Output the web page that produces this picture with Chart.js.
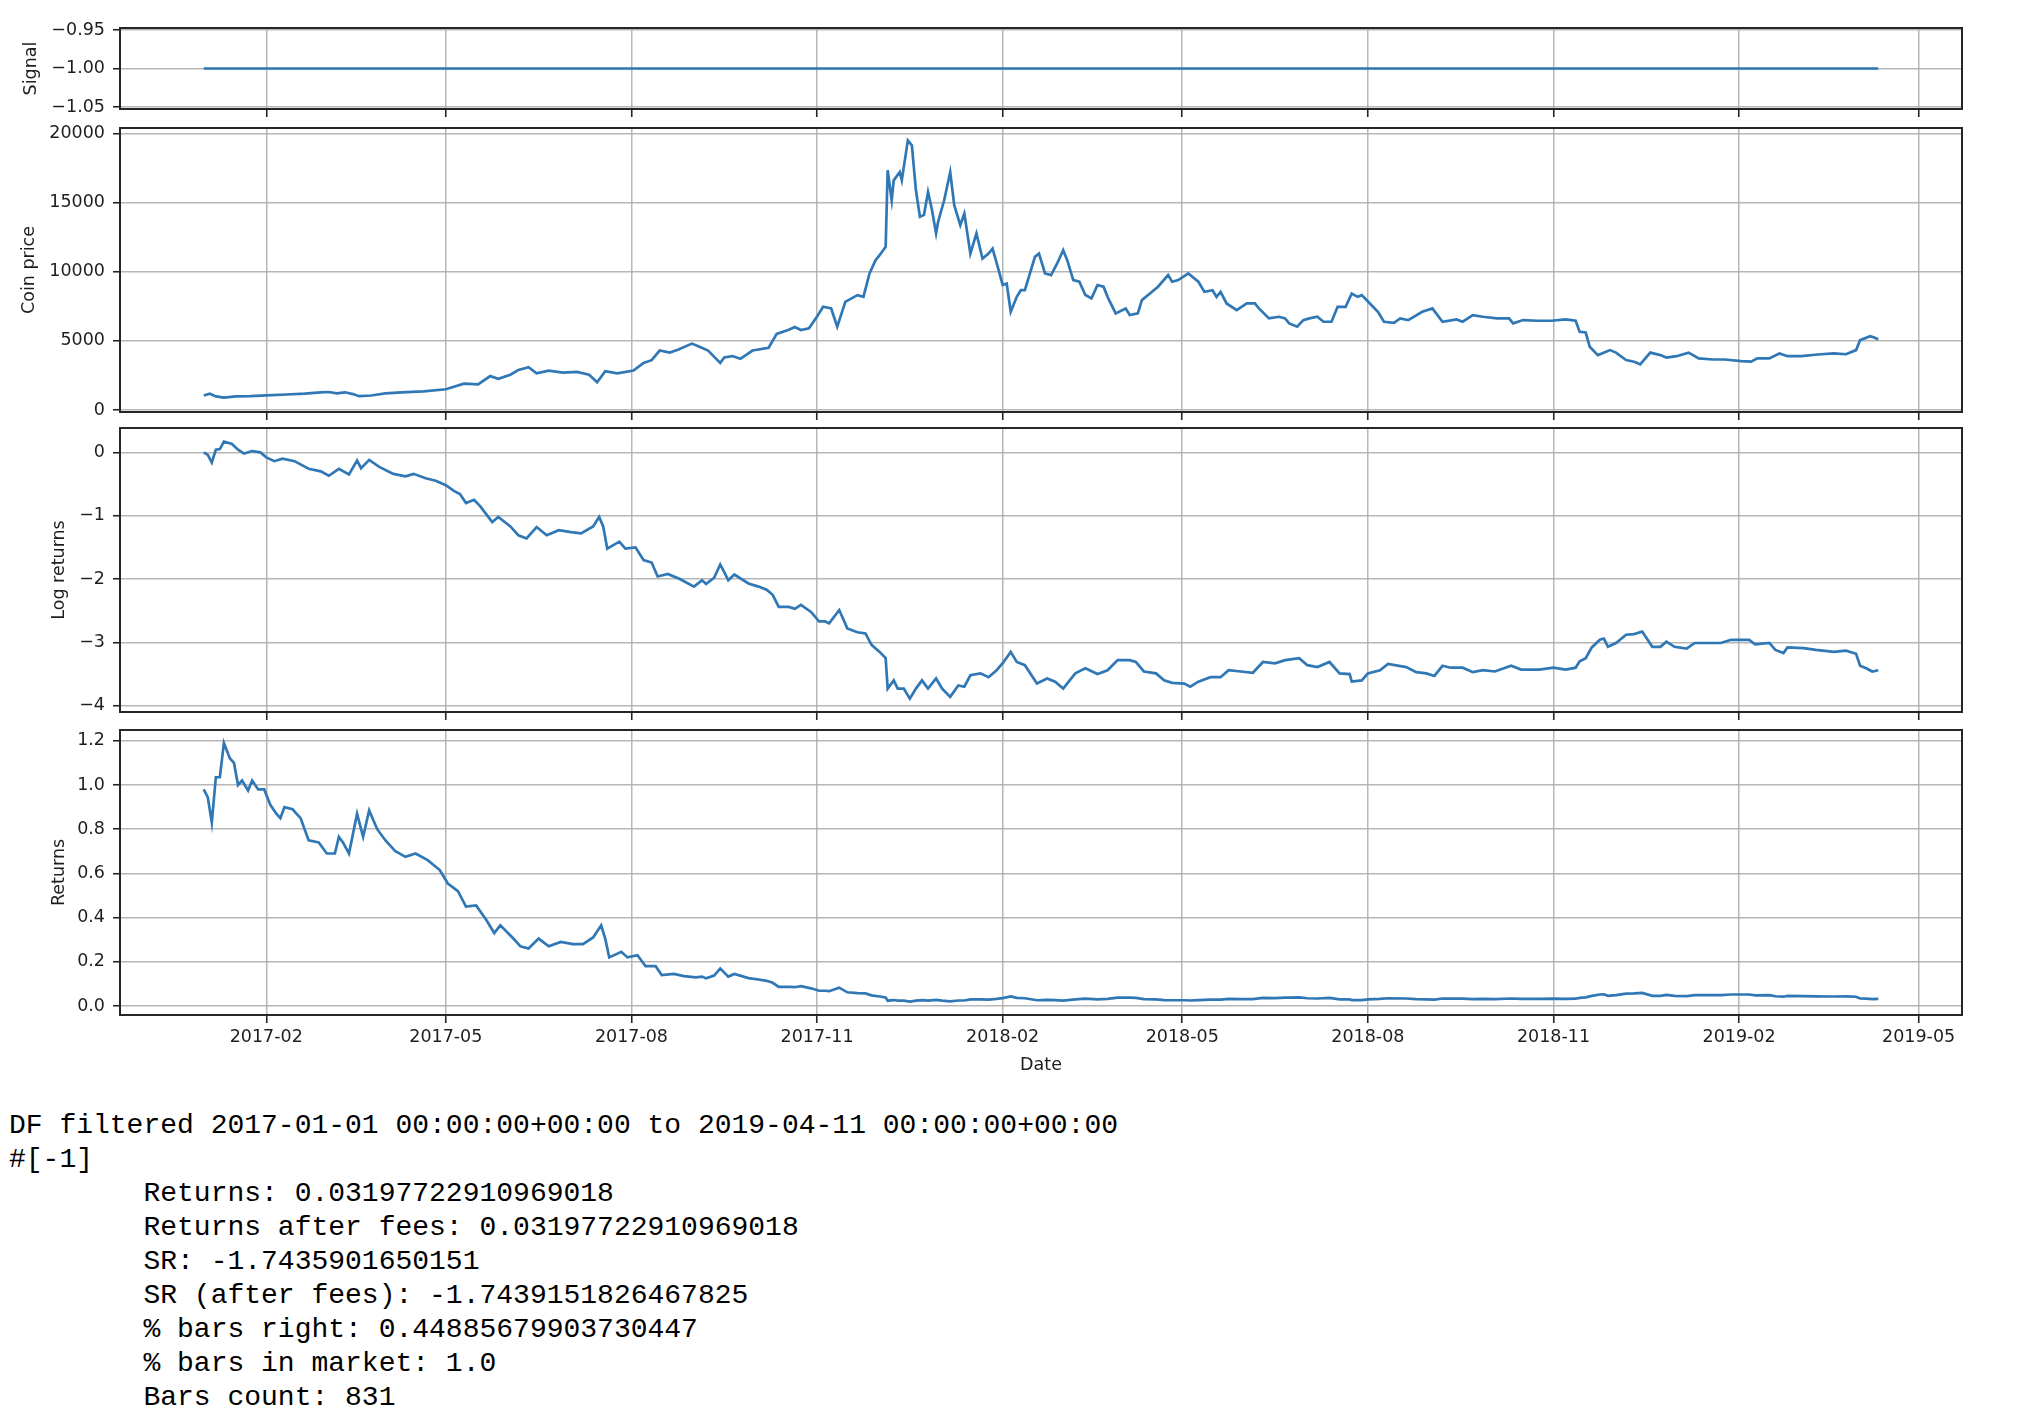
<!DOCTYPE html>
<html>
<head>
<meta charset="utf-8">
<script src="https://cdn.jsdelivr.net/npm/chart.js"></script>
<style>
html,body{margin:0;padding:0;background:#fff;width:2018px;height:1424px;overflow:hidden;position:relative;}
canvas{position:absolute;left:0;}
pre{position:absolute;left:9px;top:1109px;margin:0;font-family:"Liberation Mono","DejaVu Sans Mono",monospace;font-size:28px;line-height:34px;tab-size:8;-moz-tab-size:8;color:#000;}
</style>
</head>
<body>
<canvas id="c1"></canvas>
<canvas id="c2"></canvas>
<canvas id="c3"></canvas>
<canvas id="c4"></canvas>
<pre>DF filtered 2017-01-01 00:00:00+00:00 to 2019-04-11 00:00:00+00:00
#[-1]
	Returns: 0.03197722910969018
	Returns after fees: 0.03197722910969018
	SR: -1.7435901650151
	SR (after fees): -1.7439151826467825
	% bars right: 0.44885679903730447
	% bars in market: 1.0
	Bars count: 831</pre>
<script>
// x values are days since 2017-01-01 (first bar)
const xTickDays   = [31, 120, 212, 304, 396, 485, 577, 669, 761, 850];
const xTickLabels = ['2017-02','2017-05','2017-08','2017-11','2018-02','2018-05','2018-08','2018-11','2019-02','2019-05'];

const signalDays   = [0, 830];
const signalValues = [-1, -1];
const signalTicks  = [-1.05, -1.00, -0.95];
const signalLabels = ['\u22121.05', '\u22121.00', '\u22120.95'];

const priceDays = [
  0,3,6,10,16,23,31,41,50,58,
  62,66,70,74,77,83,90,98,109,120,
  129,136,142,146,152,156,161,165,171,178,
  185,191,195,199,205,213,218,222,226,231,
  235,242,246,250,256,258,262,266,272,280,
  284,290,293,296,300,304,307,311,314,318,
  324,327,330,333,335,338,339,341,342,345,
  346,349,351,353,355,357,359,361,363,364,
  367,370,372,375,377,380,383,386,389,391,
  394,396,398,400,403,405,407,412,414,417,
  420,423,426,428,431,434,437,440,443,446,
  448,452,457,459,463,465,469,473,478,480,
  483,488,493,496,500,502,504,507,512,517,
  521,523,528,533,536,538,542,545,548,552,
  555,559,562,566,569,572,574,578,582,585,
  590,593,597,604,609,614,621,624,629,634,
  641,647,649,654,661,668,675,680,682,685,
  687,691,693,697,700,705,709,712,717,722,
  725,730,736,741,748,754,762,767,770,776,
  781,785,792,800,808,814,819,821,826,828,
  830];
const priceValues = [
  1050,1180,980,890,980,1000,1060,1120,1180,1270,
  1300,1200,1280,1150,1000,1050,1200,1280,1350,1500,
  1900,1850,2450,2250,2550,2900,3100,2650,2850,2700,
  2750,2550,2000,2800,2650,2850,3400,3600,4300,4150,
  4350,4800,4550,4300,3400,3800,3900,3700,4300,4500,
  5500,5800,6000,5780,5900,6750,7460,7340,6020,7820,
  8300,8180,9870,10830,11190,11790,17330,15160,16600,17200,
  16600,19490,19130,15880,13960,14100,15760,14440,12760,13600,
  15160,17200,14800,13360,14200,11310,12760,10950,11310,11670,
  10110,9030,9140,7100,8180,8660,8660,11070,11310,9870,
  9750,10590,11550,10830,9390,9270,8310,8070,9030,8910,
  8180,6980,7340,6860,6980,7940,8420,8910,9750,9270,
  9390,9870,9270,8540,8660,8180,8540,7700,7220,7700,
  7700,7340,6620,6740,6620,6260,6020,6500,6620,6740,
  6380,6380,7460,7460,8420,8180,8300,7700,7100,6380,
  6300,6620,6500,7100,7340,6380,6550,6380,6860,6740,
  6620,6620,6260,6500,6450,6450,6550,6450,5650,5600,
  4570,3970,4090,4330,4150,3610,3490,3300,4150,3970,
  3790,3890,4150,3730,3650,3650,3530,3490,3730,3730,
  4090,3890,3890,4010,4090,4030,4330,5050,5340,5240,
  5100];
const priceTicks  = [0, 5000, 10000, 15000, 20000];
const priceLabels = ['0', '5000', '10000', '15000', '20000'];

const logDays = [
  0,2,4,6,8,10,14,17,20,24,
  28,31,35,39,45,52,58,62,67,72,
  76,78,82,87,94,100,104,110,115,120,
  124,127,130,134,137,143,146,152,156,160,
  165,170,176,182,187,193,196,198,200,206,
  209,214,218,222,225,230,236,243,247,249,
  253,256,258,260,263,270,275,279,282,285,
  290,293,296,301,305,308,310,315,319,324,
  328,331,335,338,339,342,344,347,350,353,
  356,359,363,366,370,374,377,380,385,389,
  393,396,400,403,407,413,418,422,426,432,
  437,443,448,453,459,462,466,472,476,480,
  486,489,493,499,504,508,514,520,525,531,
  536,543,547,552,558,563,568,569,574,577,
  583,587,596,601,606,610,614,618,624,629,
  634,640,648,653,662,669,675,680,682,685,
  688,692,694,696,700,705,709,713,718,722,
  725,729,735,739,746,752,757,766,769,776,
  779,783,785,793,799,808,814,819,821,824,
  827,830];
const logValues = [
  0,-0.04,-0.16,0.04,0.05,0.17,0.13,0.04,-0.02,0.02,
  0,-0.08,-0.14,-0.10,-0.14,-0.26,-0.30,-0.37,-0.26,-0.35,
  -0.13,-0.25,-0.12,-0.23,-0.34,-0.38,-0.34,-0.41,-0.45,-0.52,
  -0.61,-0.66,-0.80,-0.75,-0.85,-1.10,-1.02,-1.17,-1.31,-1.36,
  -1.18,-1.31,-1.23,-1.26,-1.28,-1.17,-1.02,-1.17,-1.52,-1.41,
  -1.52,-1.50,-1.70,-1.74,-1.96,-1.92,-2.00,-2.12,-2.02,-2.08,
  -1.98,-1.77,-1.89,-2.02,-1.93,-2.07,-2.12,-2.17,-2.25,-2.44,
  -2.44,-2.47,-2.41,-2.52,-2.67,-2.67,-2.70,-2.49,-2.78,-2.84,
  -2.86,-3.04,-3.15,-3.25,-3.73,-3.60,-3.73,-3.73,-3.89,-3.73,
  -3.60,-3.73,-3.57,-3.73,-3.86,-3.68,-3.70,-3.52,-3.49,-3.55,
  -3.44,-3.33,-3.15,-3.31,-3.36,-3.65,-3.57,-3.62,-3.73,-3.49,
  -3.41,-3.50,-3.44,-3.28,-3.28,-3.31,-3.46,-3.49,-3.60,-3.64,
  -3.65,-3.70,-3.62,-3.55,-3.55,-3.44,-3.46,-3.48,-3.31,-3.33,
  -3.28,-3.25,-3.36,-3.39,-3.31,-3.49,-3.50,-3.62,-3.60,-3.49,
  -3.44,-3.34,-3.39,-3.47,-3.49,-3.53,-3.37,-3.40,-3.40,-3.47,
  -3.44,-3.46,-3.37,-3.43,-3.43,-3.40,-3.43,-3.40,-3.30,-3.25,
  -3.08,-2.96,-2.94,-3.07,-3.01,-2.88,-2.87,-2.83,-3.07,-3.07,
  -2.99,-3.07,-3.10,-3.01,-3.01,-3.01,-2.96,-2.96,-3.03,-3.01,
  -3.12,-3.17,-3.08,-3.09,-3.12,-3.15,-3.13,-3.18,-3.37,-3.41,
  -3.46,-3.44];
const logTicks  = [-4, -3, -2, -1, 0];
const logLabels = ['\u22124', '\u22123', '\u22122', '\u22121', '0'];

const retDays = [
  0,2,4,6,8,10,13,15,17,19,
  22,24,27,30,33,36,38,40,44,48,
  52,57,61,65,67,69,72,76,79,82,
  86,90,95,100,105,111,117,121,126,130,
  135,140,144,147,153,157,161,166,171,177,
  183,188,193,197,199,201,207,210,215,219,
  224,227,233,238,244,247,249,253,256,258,
  260,263,270,275,279,282,285,290,293,296,
  301,305,308,310,315,319,324,328,331,335,
  338,339,342,344,347,350,353,356,359,363,
  366,370,374,377,380,385,389,393,396,400,
  403,407,413,418,422,426,432,437,443,448,
  453,459,462,466,472,476,480,486,489,493,
  499,504,508,514,520,525,531,536,543,547,
  552,558,563,568,569,574,577,583,587,596,
  601,606,610,614,618,624,629,634,640,648,
  653,662,669,675,680,682,685,688,692,694,
  696,700,705,709,713,718,722,725,729,735,
  739,746,752,757,766,769,776,779,783,785,
  793,799,808,814,819,821,824,827,830];
const retValues = [
  0.98,0.945,0.83,1.035,1.035,1.19,1.12,1.10,1.00,1.02,
  0.975,1.02,0.98,0.98,0.91,0.87,0.85,0.90,0.89,0.85,
  0.75,0.74,0.69,0.69,0.765,0.74,0.69,0.87,0.765,0.885,
  0.80,0.75,0.70,0.675,0.69,0.66,0.615,0.554,0.52,0.45,
  0.455,0.39,0.33,0.365,0.31,0.27,0.26,0.305,0.27,0.29,
  0.28,0.28,0.31,0.365,0.305,0.22,0.245,0.22,0.23,0.18,
  0.18,0.14,0.145,0.135,0.13,0.133,0.125,0.138,0.170,0.151,
  0.133,0.145,0.126,0.120,0.114,0.105,0.087,0.087,0.085,0.090,
  0.080,0.069,0.069,0.067,0.083,0.062,0.058,0.057,0.048,0.043,
  0.039,0.024,0.027,0.024,0.024,0.020,0.024,0.027,0.024,0.028,
  0.024,0.021,0.025,0.025,0.030,0.030,0.029,0.032,0.036,0.043,
  0.037,0.035,0.026,0.028,0.027,0.024,0.030,0.033,0.030,0.032,
  0.038,0.038,0.037,0.031,0.030,0.027,0.026,0.026,0.025,0.027,
  0.029,0.029,0.032,0.031,0.031,0.037,0.036,0.038,0.039,0.035,
  0.034,0.037,0.030,0.030,0.027,0.027,0.030,0.032,0.035,0.034,
  0.031,0.030,0.029,0.034,0.033,0.033,0.031,0.032,0.031,0.034,
  0.032,0.032,0.033,0.032,0.033,0.037,0.039,0.046,0.052,0.053,
  0.046,0.049,0.056,0.057,0.059,0.046,0.046,0.050,0.046,0.045,
  0.049,0.049,0.049,0.052,0.052,0.048,0.049,0.044,0.042,0.046,
  0.045,0.044,0.043,0.044,0.042,0.034,0.033,0.031,0.032];
const retTicks  = [0, 0.2, 0.4, 0.6, 0.8, 1.0, 1.2];
const retLabels = ['0.0', '0.2', '0.4', '0.6', '0.8', '1.0', '1.2'];

// ---------- styling / layout ----------
const LINE = '#3077b5';
const GRID = 'rgba(170,170,170,0.85)';
const SPINE = '#262626';
const TXT = '#1e1e1e';
const FONT = {family: 'DejaVu Sans', size: 17.5};
const X_MIN = -41.5, X_MAX = 871.5;
const PAD_TOP = 30, PAD_RIGHT = 56, Y_AXIS_W = 120;

const framePlugin = {
  id: 'frame',
  afterDraw(chart) {
    const {ctx, chartArea: a} = chart;
    ctx.save();
    ctx.strokeStyle = SPINE;
    ctx.lineWidth = 2;
    ctx.strokeRect(a.left, a.top, a.right - a.left, a.bottom - a.top);
    ctx.restore();
  }
};

function build(canvas, h, cfg) {
  canvas.width = 2018;
  canvas.height = h;
  canvas.style.width = '2018px';
  canvas.style.height = h + 'px';
  const pts = cfg.days.map((d, i) => ({x: d, y: cfg.values[i]}));
  return new Chart(canvas, {
    type: 'line',
    data: {datasets: [{data: pts, borderColor: LINE, borderWidth: 2.7, pointRadius: 0, tension: 0, fill: false}]},
    options: {
      responsive: false,
      maintainAspectRatio: false,
      animation: false,
      devicePixelRatio: 1,
      layout: {padding: {top: PAD_TOP, right: PAD_RIGHT, left: 0, bottom: 0}},
      plugins: {legend: {display: false}, tooltip: {enabled: false}},
      scales: {
        x: {
          type: 'linear', min: X_MIN, max: X_MAX, bounds: 'data',
          afterBuildTicks: s => { s.ticks = xTickDays.map(v => ({value: v})); },
          afterFit: s => { s.height = cfg.xHeight; },
          border: {display: false},
          grid: {color: GRID, lineWidth: 1.5, drawTicks: true, tickLength: 8, tickColor: SPINE, tickWidth: 1.6},
          ticks: {display: cfg.showX, padding: 4, autoSkip: false, maxRotation: 0, font: FONT, color: TXT,
                  callback: (v, i) => xTickLabels[i]},
          title: {display: cfg.showX, text: 'Date', font: FONT, color: TXT, padding: {top: 0, bottom: 19}}
        },
        y: {
          type: 'linear', min: cfg.yMin, max: cfg.yMax, bounds: 'data',
          afterBuildTicks: s => { s.ticks = cfg.yTicks.map(v => ({value: v})); },
          afterFit: s => { s.width = Y_AXIS_W; },
          border: {display: false},
          grid: {color: GRID, lineWidth: 1.5, drawTicks: true, tickLength: 7, tickColor: SPINE, tickWidth: 1.6},
          ticks: {padding: 8, autoSkip: false, font: FONT, color: TXT, callback: (v, i) => cfg.yLabels[i]},
          title: {display: true, text: cfg.yTitle, font: FONT, color: TXT, padding: {top: cfg.titlePad, bottom: 0}}
        }
      }
    },
    plugins: [framePlugin]
  });
}

function panel(id, top, bottom, cfg) {
  const canvas = document.getElementById(id);
  const want = bottom - top;
  let h = want + PAD_TOP + cfg.xHeight;
  let chart = build(canvas, h, cfg);
  const got = chart.chartArea.bottom - chart.chartArea.top;
  if (Math.abs(got - want) > 0.25) {
    chart.destroy();
    h += (want - got);
    chart = build(canvas, h, cfg);
  }
  canvas.style.top = (top - chart.chartArea.top) + 'px';
}

panel('c1', 28, 109, {days: signalDays, values: signalValues, yMin: -1.0526, yMax: -0.9474,
  yTicks: signalTicks, yLabels: signalLabels, yTitle: 'Signal', titlePad: 21, xHeight: 30, showX: false});
panel('c2', 128, 412, {days: priceDays, values: priceValues, yMin: -144, yMax: 20383,
  yTicks: priceTicks, yLabels: priceLabels, yTitle: 'Coin price', titlePad: 18.5, xHeight: 30, showX: false});
panel('c3', 428, 712, {days: logDays, values: logValues, yMin: -4.0994, yMax: 0.3836,
  yTicks: logTicks, yLabels: logLabels, yTitle: 'Log returns', titlePad: 49, xHeight: 30, showX: false});
panel('c4', 730, 1015, {days: retDays, values: retValues, yMin: -0.0407, yMax: 1.2488,
  yTicks: retTicks, yLabels: retLabels, yTitle: 'Returns', titlePad: 48.5, xHeight: 80, showX: true});
</script>
</body>
</html>
